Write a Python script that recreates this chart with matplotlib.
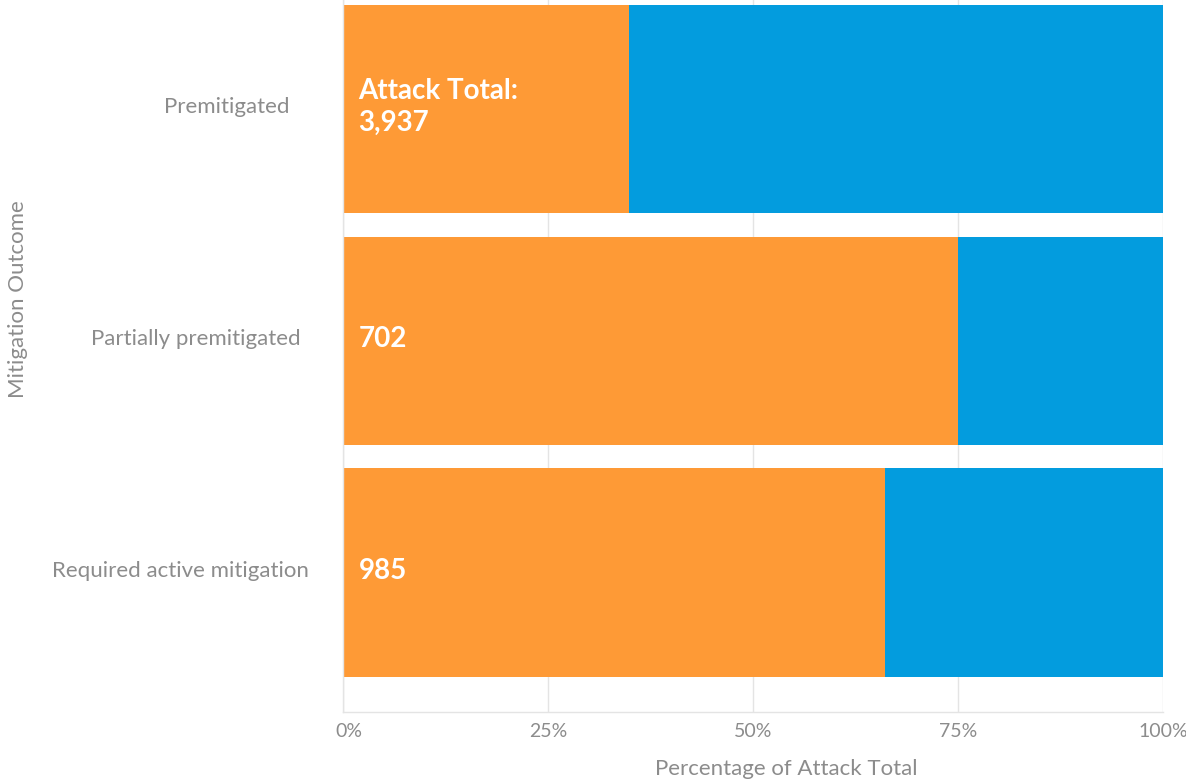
import matplotlib.pyplot as plt
import numpy as np
from matplotlib.transforms import ScaledTranslation

plt.rcParams["font.family"] = ["Lato", "DejaVu Sans"]

categories = ["Premitigated", "Partially premitigated", "Required active mitigation"]
orange_share = [34.9, 75.0, 66.1]
blue_share = [65.1, 25.0, 33.9]
bar_labels = ["Attack Total:\n3,937", "702", "985"]
x_ticks = [0, 25, 50, 75, 100]
x_tick_labels = ["0%", "25%", "50%", "75%", "100%"]

ORANGE = "#FE9A36"
BLUE = "#039CDE"
GRID = "#E4E4E4"
TEXT = "#8C8C8C"

fig = plt.figure(figsize=(11.86, 7.82), dpi=100)
ax = fig.add_axes([343 / 1186, 1 - 712 / 782, 820 / 1186, 712 / 782])

y = np.arange(len(categories))
ax.barh(y, orange_share, height=0.9, color=ORANGE, zorder=2)
ax.barh(y, blue_share, left=orange_share, height=0.9, color=BLUE, zorder=2)

for yi, lab in zip(y, bar_labels):
    ax.text(1.9, yi - 0.008, lab, color="white", fontsize=20, fontweight="bold",
            ha="left", va="center", linespacing=1.3, zorder=3)

ax.set_xlim(0, 100)
ax.set_ylim(2.6, -0.47)
ax.set_xticks(x_ticks)
ax.set_xticklabels(x_tick_labels)
ax.set_yticks(y)
ax.set_yticklabels(categories)
ax.tick_params(axis="both", length=0, colors=TEXT)
ax.tick_params(axis="x", labelsize=14, pad=8)
ax.tick_params(axis="y", labelsize=16, pad=36)
for lab in ax.get_xticklabels()[:1]:
    lab.set_transform(lab.get_transform() + ScaledTranslation(6 / 100, 0, fig.dpi_scale_trans))
# the reference labels are not right aligned exactly
for lab, dx in zip(ax.get_yticklabels(), [-4, 8, 16]):
    lab.set_transform(lab.get_transform() + ScaledTranslation(dx / 100, 4 / 100, fig.dpi_scale_trans))

ax.grid(True, axis="x", color=GRID, linewidth=1, zorder=0)
for side in ["top", "right"]:
    ax.spines[side].set_visible(False)
for side in ["left", "bottom"]:
    ax.spines[side].set_color(GRID)
    ax.spines[side].set_linewidth(1)

ax.set_xlabel("Percentage of Attack Total", color=TEXT, fontsize=16)
ax.xaxis.set_label_coords(0.540, -0.066)
ax.set_ylabel("Mitigation Outcome", color=TEXT, fontsize=16)
ax.yaxis.set_label_coords(-0.384, 0.58)

fig.savefig("out.png", dpi=100)
